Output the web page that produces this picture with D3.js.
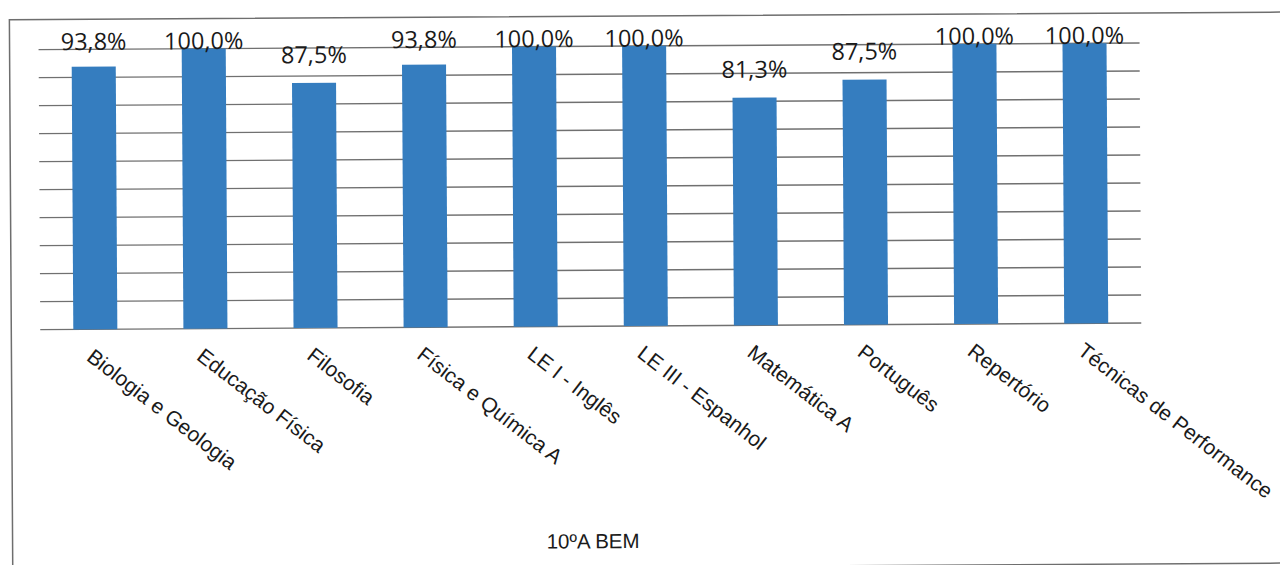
<!DOCTYPE html>
<html lang="pt">
    <head>
        <meta charset="utf-8">
        <title>10ºA BEM</title>
        <script type="text/javascript" src="https://cdn.jsdelivr.net/npm/d3@7"></script>
        <style type="text/css">
            body {
                margin: 0;
                background: #fff;
            }
            .grid line {
                stroke: #707070;
                stroke-width: 1.4px;
            }
            .bar {
                fill: #357dbf;
            }
            .value {
                font-family: "Open Sans", sans-serif;
                font-size: 23.5px;
                fill: #1a1a1a;
                text-anchor: middle;
            }
            .cat {
                font-family: "Liberation Sans", Arial, sans-serif;
                font-size: 21px;
                fill: #1a1a1a;
            }
            .title {
                font-family: "Liberation Sans", Arial, sans-serif;
                font-size: 20.5px;
                fill: #1a1a1a;
                text-anchor: middle;
            }
        </style>
    </head>
    <body>
        <script type="text/javascript">

            //Data
            var categories = ["Biologia e Geologia", "Educação Física", "Filosofia", "Física e Química A",
                              "LE I - Inglês", "LE III - Espanhol", "Matemática A", "Português",
                              "Repertório", "Técnicas de Performance"];
            var values = [93.8, 100.0, 87.5, 93.8, 100.0, 100.0, 81.3, 87.5, 100.0, 100.0];
            var yTicks = [0, 10, 20, 30, 40, 50, 60, 70, 80, 90, 100];
            var title = "10ºA BEM";

            //Width and height
            var w = 1280;
            var h = 565;
            var plot = {left: 40, right: 1141, top: 46, bottom: 326};

            var svg = d3.select("body")
                        .append("svg")
                        .attr("width", w)
                        .attr("height", h);

            //the scan is tilted a little
            var g = svg.append("g")
                       .attr("transform", "rotate(-0.35, 640, 282)");

            //chart border
            g.append("rect")
             .attr("x", 11)
             .attr("y", 16)
             .attr("width", 1300)
             .attr("height", 551)
             .attr("fill", "none")
             .attr("stroke", "#6e6e6e")
             .attr("stroke-width", 1.5);

            var x = d3.scaleBand()
                      .domain(categories)
                      .range([plot.left, plot.right])
                      .paddingInner(0.6)
                      .paddingOuter(0.3);

            var y = d3.scaleLinear()
                      .domain([0, 100])
                      .range([plot.bottom, plot.top]);

            var pct = d3.formatLocale({decimal: ",", thousands: ".", grouping: [3], currency: ["", "€"]})
                        .format(".1f");

            //Gridlines
            g.append("g")
             .attr("class", "grid")
             .selectAll("line")
             .data(yTicks)
             .enter()
             .append("line")
             .attr("x1", plot.left)
             .attr("x2", plot.right)
             .attr("y1", function(d) { return y(d); })
             .attr("y2", function(d) { return y(d); });

            //Bars
            g.selectAll("rect.bar")
             .data(values)
             .enter()
             .append("rect")
             .attr("class", "bar")
             .attr("x", function(d, i) { return x(categories[i]); })
             .attr("width", x.bandwidth())
             .attr("y", function(d) { return y(d); })
             .attr("height", function(d) { return y(0) - y(d); });

            //Value labels, kept inside the chart area
            g.selectAll("text.value")
             .data(values)
             .enter()
             .append("text")
             .attr("class", "value")
             .attr("x", function(d, i) { return x(categories[i]) + x.bandwidth() / 2; })
             .attr("y", function(d) { return Math.max(y(d) - 20, y(100) + 0.5); })
             .text(function(d) { return pct(d) + "%"; });

            //Category labels
            g.selectAll("text.cat")
             .data(categories)
             .enter()
             .append("text")
             .attr("class", "cat")
             .attr("transform", function(d) {
                 var cx = x(d) + x.bandwidth() / 2 - 10;
                 return "translate(" + cx + "," + (plot.bottom + 30) + ") rotate(38)";
             })
             .text(function(d) { return d; });

            //Title below
            g.append("text")
             .attr("class", "title")
             .attr("x", (plot.left + plot.right) / 2 + 1)
             .attr("y", 548)
             .text(title);

        </script>
    </body>
</html>
